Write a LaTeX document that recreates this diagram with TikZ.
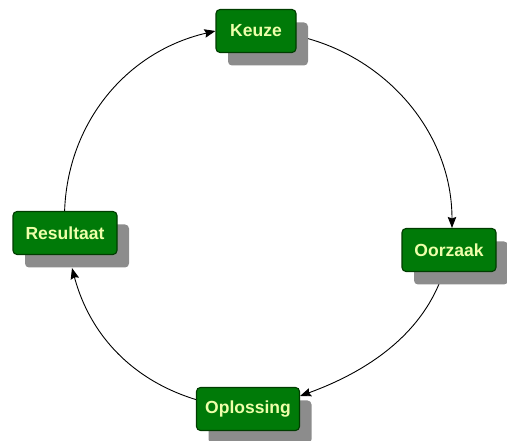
\documentclass[tikz,border=0pt]{standalone}
\usepackage{fontspec}
\setmainfont{Liberation Sans}
\usetikzlibrary{shadows,backgrounds,arrows.meta}
\definecolor{boxgreen}{RGB}{0,122,8}
\definecolor{boxedge}{RGB}{0,60,0}
\definecolor{boxtext}{RGB}{238,255,170}
\definecolor{shadowgray}{RGB}{140,140,140}
\tikzset{
  stepbox/.style={draw=boxedge, line width=1.1pt, fill=boxgreen, rounded corners=4pt,
    text=boxtext, font=\fontsize{17.5}{20}\selectfont\bfseries,
    minimum height=43pt, inner sep=0pt,
    drop shadow={shadow xshift=12pt, shadow yshift=-13pt, fill=shadowgray, opacity=1, draw=none}},
  link/.style={line width=0.9pt, -{Stealth[length=11pt,width=8.5pt,inset=1.5pt]}}
}
\begin{document}
\begin{tikzpicture}[x=1pt,y=1pt]
\useasboundingbox (0,0) rectangle (507,441);
\node[stepbox, minimum width=80pt]  (k) at (256,410) {Keuze};
\node[stepbox, minimum width=94pt]  (o) at (449,191) {Oorzaak};
\node[stepbox, minimum width=103pt] (p) at (248,32)  {Oplossing};
\node[stepbox, minimum width=104pt] (r) at (65,208)  {Resultaat};
\begin{pgfonlayer}{background}
\draw[link] (k.center) to[out=-1, in=90] ([xshift=3pt]o.north);
\draw[link] (o.center) to[out=-100, in=20, looseness=0.95] ([yshift=13pt]p.east);
\draw[link] (p.center) to[out=176, in=-75] ([xshift=7pt,yshift=-13pt]r.south);
\draw[link] (r.center) to[out=94, in=193] (k.west);
\end{pgfonlayer}
\end{tikzpicture}
\end{document}
